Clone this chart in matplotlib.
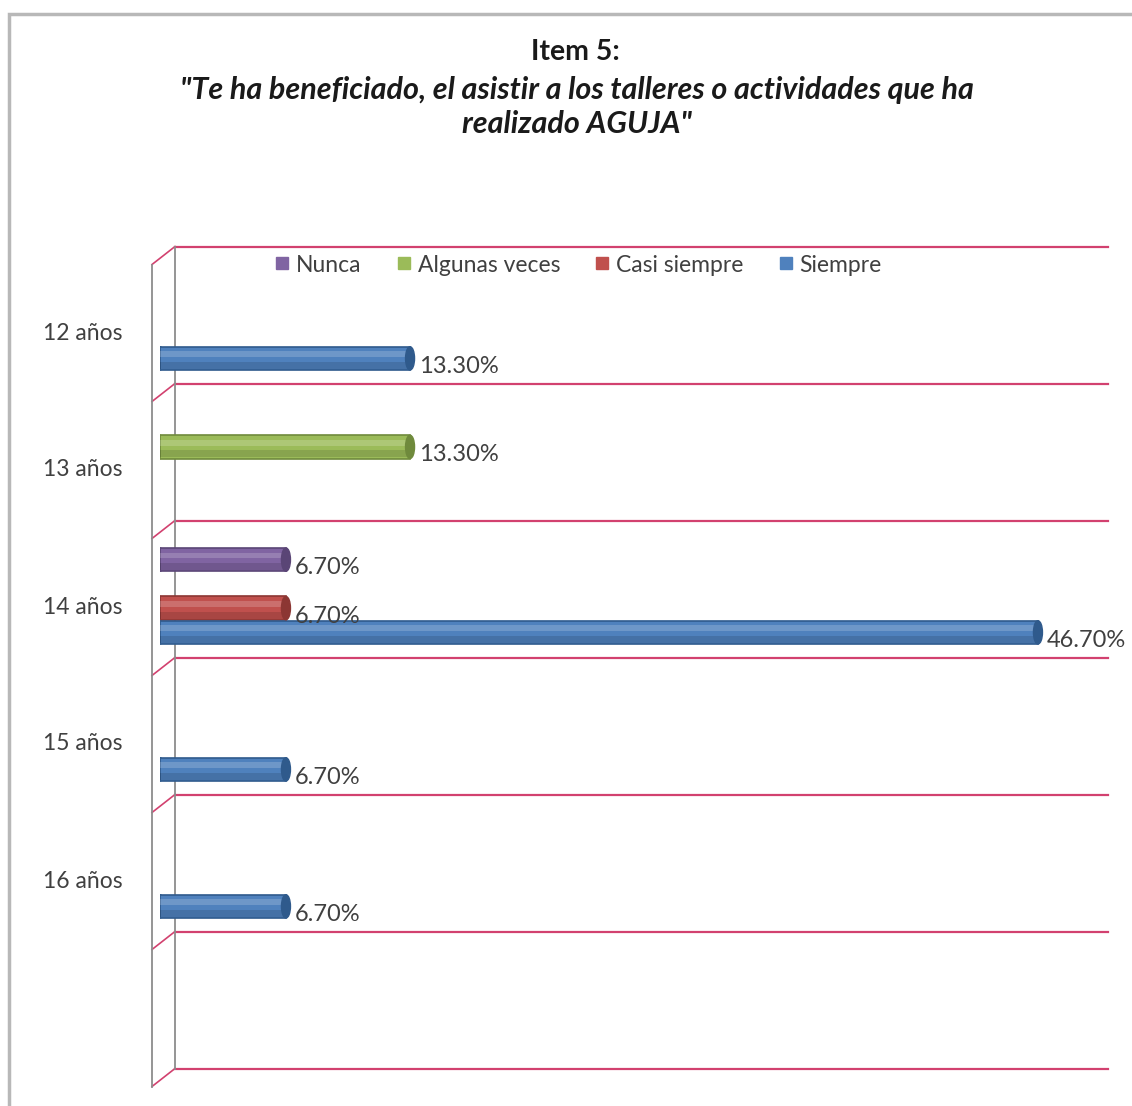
import matplotlib.pyplot as plt
from matplotlib.patches import Ellipse, Rectangle
from matplotlib.lines import Line2D

# Data
categories = ['12 años', '13 años', '14 años', '15 años', '16 años']
series = ['Nunca', 'Algunas veces', 'Casi siempre', 'Siempre']
nunca = [0, 0, 6.7, 0, 0]
algunas = [0, 13.3, 0, 0, 0]
casi = [0, 0, 6.7, 0, 0]
siempre = [13.3, 0, 46.7, 6.7, 6.7]
colors = ['#8064A2', '#9BBB59', '#C0504D', '#4F81BD']
edges = ['#5a4576', '#6f8a3c', '#8c3633', '#2f5a8c']

values = [nunca, algunas, casi, siempre]
n_slots = 6  # Excel left an empty slot at the bottom

plt.rcParams['font.family'] = ['Lato', 'DejaVu Sans']

W, H = 1132, 1106
fig = plt.figure(figsize=(W / 100, H / 100), dpi=100)

# chart frame
fig.patches.append(Rectangle((0.008, -0.02), 1.1, 1.007, transform=fig.transFigure,
                             fill=False, edgecolor='#b8b8b8', linewidth=2.5))

# axes: x=0 at px 160, 50% at px 1100; slots of 137 px starting at 253.5
x0_px, x1_px = 160, 1100
y_top = 253.5
slot = 137
ax = fig.add_axes([x0_px / W, 1 - (y_top + slot * n_slots) / H,
                   (x1_px - x0_px) / W, slot * n_slots / H])
ax.set_xlim(0, 50)
ax.set_ylim(n_slots - 0.5, -0.5)
ax.axis('off')

pxx = 50 / (x1_px - x0_px)  # data units per pixel (x)
pxy = 1 / slot              # data units per pixel (y)

# 3D walls and gridlines
grid_c = '#d2416f'
wall_c = '#8c8c8c'
back_x = 15 * pxx
front_x = -8 * pxx
end_x = 50.4
for k in range(n_slots + 1):
    yb = k - 0.5 - 7 * pxy
    yf = yb + 18 * pxy
    ax.plot([back_x, end_x], [yb, yb], color=grid_c, lw=1.6, clip_on=False, zorder=1)
    ax.plot([front_x, back_x], [yf, yb], color=grid_c, lw=1.2, clip_on=False, zorder=1)
ytop_b = -0.5 - 7 * pxy
ybot_b = n_slots - 0.5 - 7 * pxy
ax.plot([back_x, back_x], [ytop_b, ybot_b], color=wall_c, lw=1.3, clip_on=False, zorder=1)
ax.plot([front_x, front_x], [ytop_b + 18 * pxy, ybot_b + 18 * pxy], color=wall_c, lw=1.3,
        clip_on=False, zorder=1)

# bars
bar_h = 0.17
step = 0.177
for s, vals in enumerate(values):
    off = (s - 1.5) * step
    for i, v in enumerate(vals):
        if v <= 0:
            continue
        y = i + off
        ax.barh(y, v, height=bar_h, color=colors[s], edgecolor=edges[s], linewidth=1.2, zorder=3)
        # highlight / shadow stripes for a cylinder look
        ax.barh(y - bar_h * 0.18, v, height=bar_h * 0.25, color='white', alpha=0.18,
                linewidth=0, zorder=4)
        ax.barh(y + bar_h * 0.3, v, height=bar_h * 0.3, color='black', alpha=0.12,
                linewidth=0, zorder=4)
        ax.add_patch(Ellipse((v, y), 9 * pxx, bar_h, facecolor=edges[s],
                             edgecolor=edges[s], zorder=5))
        ax.add_patch(Ellipse((0, y), 9 * pxx, bar_h, facecolor=colors[s],
                             edgecolor=edges[s], lw=1, zorder=2))
        ax.text(v + 9 * pxx, y + 8 * pxy, f'{v:.2f}%', fontsize=17, color='#404040',
                va='center', ha='left', zorder=6)

# category labels
for i, c in enumerate(categories):
    ax.text(-77 * pxx, i + 11 * pxy, c, fontsize=16.5, color='#404040',
            ha='center', va='center', clip_on=False)

# legend
handles = [Line2D([], [], marker='s', linestyle='', markersize=8,
                  markerfacecolor=colors[s], markeredgecolor=colors[s]) for s in range(4)]
fig.legend(handles, series, loc='center', bbox_to_anchor=(578 / W, 1 - 265 / H), ncol=4,
           frameon=False, fontsize=16.5, handletextpad=0.25, handlelength=0.7,
           columnspacing=1.5, labelcolor='#404040')

# title
fig.text(575 / W, 1 - 52 / H, 'Item 5:', fontsize=20.5, fontweight='bold',
         ha='center', va='center', color='#1a1a1a')
fig.text(577 / W, 1 - 107 / H,
         '"Te ha beneficiado, el asistir a los talleres o actividades que ha\nrealizado AGUJA"',
         fontsize=22, fontweight='bold', fontstyle='italic', ha='center', va='center',
         color='#1a1a1a', linespacing=1.3)

fig.savefig('out.png', dpi=100)
